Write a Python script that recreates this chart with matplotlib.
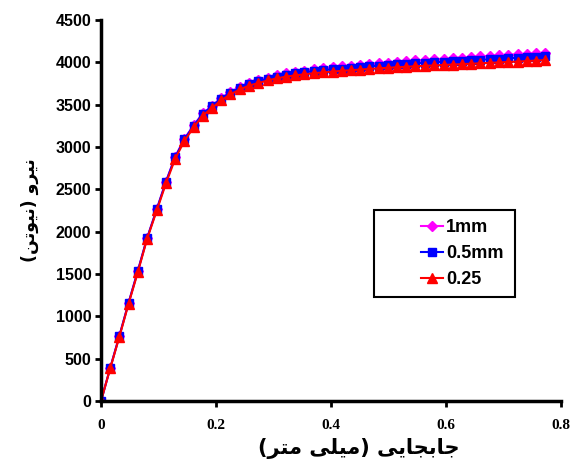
import matplotlib
matplotlib.use("Agg")
import matplotlib.pyplot as plt
from matplotlib.patches import Rectangle

# displacement (mm)
disp = [0.000, 0.016, 0.032, 0.048, 0.064, 0.080, 0.097, 0.113, 0.129, 0.145,
        0.161, 0.177, 0.193, 0.209, 0.225, 0.242, 0.258, 0.274, 0.290, 0.306,
        0.322, 0.338, 0.354, 0.370, 0.386, 0.403, 0.419, 0.435, 0.451, 0.467,
        0.483, 0.499, 0.515, 0.531, 0.547, 0.564, 0.580, 0.596, 0.612, 0.628,
        0.644, 0.660, 0.676, 0.692, 0.708, 0.725, 0.741, 0.757, 0.773]

# force (N)
f_1mm = [0, 390, 770, 1160, 1535, 1920, 2265, 2590, 2885, 3095,
         3255, 3395, 3485, 3578, 3650, 3710, 3755, 3788, 3818, 3845,
         3868, 3886, 3901, 3915, 3928, 3940, 3951, 3961, 3971, 3980,
         3989, 3997, 4005, 4013, 4021, 4028, 4035, 4042, 4049, 4056,
         4063, 4069, 4075, 4081, 4087, 4093, 4099, 4105, 4111]
f_05mm = [0, 390, 770, 1160, 1535, 1920, 2265, 2590, 2880, 3090,
          3250, 3390, 3480, 3570, 3640, 3700, 3745, 3775, 3805, 3830,
          3852, 3868, 3882, 3895, 3906, 3917, 3926, 3935, 3944, 3952,
          3960, 3967, 3974, 3981, 3988, 3994, 4000, 4006, 4012, 4018,
          4024, 4030, 4036, 4041, 4047, 4053, 4059, 4065, 4071]
f_025 = [0, 385, 760, 1150, 1520, 1910, 2250, 2570, 2860, 3070,
         3230, 3370, 3460, 3550, 3620, 3680, 3725, 3755, 3785, 3810,
         3830, 3845, 3858, 3870, 3880, 3890, 3898, 3906, 3914, 3921,
         3928, 3935, 3941, 3947, 3953, 3958, 3963, 3968, 3973, 3978,
         3983, 3988, 3993, 3998, 4003, 4008, 4014, 4020, 4026]

labels = ["1mm", "0.5mm", "0.25"]
xticks = [0, 0.2, 0.4, 0.6, 0.8]
xtick_labels = ["0", "0.2", "0.4", "0.6", "0.8"]
yticks = list(range(0, 4501, 500))

# Persian labels written with presentation forms in display order
# (matplotlib has no Arabic shaping)
xlabel = ("(\uFEAE\uFE98\uFEE3 \uFBFD\uFEE0\uFBFF\uFEE3) "
          "\uFBFD\uFBFE\uFE8E\uFEA0\uFE91\uFE8E\uFE9F")
ylabel = ("(\uFEE6\uFE97\uFEEE\uFBFF\uFEE7) "
          "\uFEED\uFEAE\uFBFF\uFEE7")

fig = plt.figure(figsize=(5.74, 4.74), dpi=100)
ax = fig.add_axes([0.176, 0.154, 0.801, 0.804])

ax.plot(disp, f_1mm, color="#FF00FF", marker="D", markersize=5,
        linewidth=1.5, label=labels[0])
ax.plot(disp, f_05mm, color="#0000FF", marker="s", markersize=5.5,
        linewidth=1.5, label=labels[1])
ax.plot(disp, f_025, color="#FF0000", marker="^", markersize=6.5,
        linewidth=1.5, label=labels[2])

ax.set_xlim(0, 0.8)
ax.set_ylim(0, 4500)
ax.set_xticks(xticks)
ax.set_xticklabels(xtick_labels, fontfamily="Liberation Serif",
                   fontweight="bold", fontsize=11)
ax.set_yticks(yticks)
ax.set_yticklabels([str(v) for v in yticks], fontfamily="Liberation Sans",
                   fontweight="bold", fontsize=11.5)
ax.tick_params(direction="out", length=4, width=2)
ax.tick_params(axis="x", pad=9)
ax.tick_params(axis="y", pad=3)

for side in ["top", "right"]:
    ax.spines[side].set_visible(False)
for side in ["left", "bottom"]:
    ax.spines[side].set_linewidth(2.5)

ax.set_xlabel(xlabel, fontfamily=["DejaVu Sans"], fontweight="bold",
              fontsize=15)
ax.xaxis.set_label_coords(0.56, -0.097)
ax.xaxis.label.set_va("top")
ax.set_ylabel(ylabel, fontfamily=["DejaVu Sans"], fontweight="bold",
              fontsize=12.5, labelpad=12)

# legend box
ax.add_patch(Rectangle((0.593, 0.273), 0.307, 0.228, transform=ax.transAxes,
                       facecolor="white", edgecolor="black", linewidth=1.5,
                       zorder=5))
leg = ax.legend(loc="center left", bbox_to_anchor=(0.66, 0.387),
                frameon=False, handlelength=1.25, handletextpad=0.15,
                labelspacing=0.5, prop={"family": "Liberation Sans",
                                         "weight": "bold", "size": 13})
leg.set_zorder(6)

fig.savefig("out.png", dpi=100)
